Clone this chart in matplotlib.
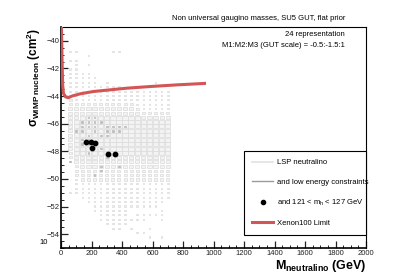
import matplotlib.pyplot as plt
from matplotlib.patches import Rectangle
from matplotlib.collections import PatchCollection
from matplotlib.lines import Line2D

plt.rcParams['font.family'] = ['Liberation Sans', 'DejaVu Sans']
plt.rcParams['mathtext.fontset'] = 'custom'
plt.rcParams['mathtext.rm'] = 'Liberation Sans'
plt.rcParams['mathtext.it'] = 'Liberation Sans:italic'
plt.rcParams['mathtext.bf'] = 'Liberation Sans:bold'

# box histogram: 40 GeV columns (centres 60..700), 0.32 rows from -55 to -39
mass_centres = [60, 100, 140, 180, 220, 260, 300, 340, 380, 420, 460, 500, 540, 580, 620, 660, 700]
row_top = 44   # index of the first string below
# box size level per cell (0 empty .. 4 big), rows from top (row 44) down to row 2
lsp_rows = [
    "11000001100000000",
    "00010000000000000",
    "11000000000000000",
    "01010000000000000",
    "11000000000000000",
    "11110000000000000",
    "11111000000000000",
    "11111010000000100",
    "11111111100000000",
    "11111111111111111",
    "11111111111111111",
    "21111111111111111",
    "22222222222111111",
    "33333333333211111",
    "33333333333322222",
    "33444444444433333",
    "34444444444444444",
    "34444444444444444",
    "34444444444444444",
    "34444444444444444",
    "34444444444444444",
    "34444444444444444",
    "34444444444444444",
    "24444444444444444",
    "23333333333333333",
    "13333333333333333",
    "02333333333333333",
    "02222222222222222",
    "02222222222222222",
    "01222222222222222",
    "01111111111111111",
    "01111111111111111",
    "11111111111111111",
    "00111111111111111",
    "00011111111111110",
    "00001111111111100",
    "00001111110000010",
    "00000111110111110",
    "00000111111110010",
    "00000011110000000",
    "00000001101001000",
    "00000000000110000",
    "00000000000001010",
]

# cells that also pass the low energy constraints (column, row)
lowe_cols = [3, 4, 2, 3, 4, 5, 2, 3, 4, 6, 7, 8, 9, 1, 2, 4, 6, 7, 8, 3, 5, 6, 2, 3, 2, 3, 5, 3, 6, 0, 5, 8, 5, 4]
lowe_rows = [29, 29, 28, 28, 28, 28, 27, 27, 27, 27, 27, 27, 27, 26, 26, 26, 26, 26, 26, 25, 25, 25, 24, 24, 23, 23, 22, 21, 20, 19, 18, 18, 17, 16]

# points with 121 < mh < 127 GeV
higgs_mass = [162, 199, 226, 206, 309, 351]
higgs_sigma = [-47.36, -47.34, -47.41, -47.75, -48.17, -48.17]

# Xenon100 limit
xenon_mass = [2, 7, 11, 16, 30, 48, 72, 125, 212, 321, 431, 584, 759, 951]
xenon_sigma = [-38.5, -41.4, -43.2, -43.8, -44.06, -44.12, -44.0, -43.84, -43.67, -43.55, -43.43, -43.31, -43.19, -43.08]

bin_w = 40.0
bin_h = 0.32
sizes = [0, 0.25, 0.5, 0.7, 0.9]


def row_centre(j):
    return -55 + bin_h * (j + 0.5)


fig = plt.figure(figsize=(4.07, 2.76), dpi=100)
ax = fig.add_axes([61 / 407, 28 / 276, 305 / 407, 221 / 276])

boxes = []
for i, row in enumerate(lsp_rows):
    y = row_centre(row_top - i)
    for k, ch in enumerate(row):
        f = sizes[int(ch)]
        if f == 0:
            continue
        x = mass_centres[k]
        boxes.append(Rectangle((x - bin_w * f / 2, y - bin_h * f / 2), bin_w * f, bin_h * f))
ax.add_collection(PatchCollection(boxes, facecolor='#f3f3f3', edgecolor='#dadada', linewidth=0.5))

dark = []
for k, j in zip(lowe_cols, lowe_rows):
    f = 0.3
    x = mass_centres[k]
    y = row_centre(j)
    dark.append(Rectangle((x - bin_w * f / 2, y - bin_h * f / 2), bin_w * f, bin_h * f))
ax.add_collection(PatchCollection(dark, facecolor='#bdbdbd', edgecolor='#b0b0b0', linewidth=0.4))

ax.scatter(higgs_mass, higgs_sigma, s=10, color='black', zorder=4)
ax.plot(xenon_mass, xenon_sigma, color='#d45555', lw=2.2, solid_capstyle='butt', zorder=5)

ax.set_xlim(0, 2000)
ax.set_ylim(-55, -39)
ax.set_xticks(range(0, 2001, 200))
ax.set_xticks(range(0, 2001, 50), minor=True)
ax.set_yticks(range(-54, -39, 2))
ax.set_yticks([-55 + 0.5 * i for i in range(33)], minor=True)
ax.tick_params(which='both', direction='in', top=False, right=False, labelsize=5.5,
               pad=1.2, colors='#222222')
ax.tick_params(which='major', length=5, width=0.9)
ax.tick_params(which='minor', length=2.5, width=0.7)
for s in ['left', 'bottom']:
    ax.spines[s].set_linewidth(1.2)
for s in ['top', 'right']:
    ax.spines[s].set_linewidth(0.8)

handles = [
    Line2D([], [], color='#e2e2e2', lw=1.2),
    Line2D([], [], color='#9a9a9a', lw=1.0),
    Line2D([], [], color='black', marker='o', ls='none', ms=3),
    Line2D([], [], color='#d45555', lw=2.2),
]
labels = ['LSP neutralino', 'and low energy constraints',
          r'and 121 < m$_{\rm h}$ < 127 GeV', 'Xenon100 Limit']
leg = ax.legend(handles, labels, loc='upper left', bbox_to_anchor=(0.6, 0.059, 0.4, 0.38),
                mode='expand', borderaxespad=0, fontsize=5.5, frameon=True, fancybox=False,
                edgecolor='black', framealpha=1, labelspacing=1.55, borderpad=1.05,
                handlelength=2.8, handletextpad=0.5)
leg.get_frame().set_linewidth(0.8)

fig.text(345 / 407, 1 - 19 / 276, 'Non universal gaugino masses, SU5 GUT, flat prior',
         ha='right', va='center', fontsize=5.5)
fig.text(345 / 407, 1 - 35 / 276, '24 representation', ha='right', va='center', fontsize=5.5)
fig.text(345 / 407, 1 - 45 / 276, 'M1:M2:M3 (GUT scale) = -0.5:-1.5:1', ha='right',
         va='center', fontsize=5.5)
fig.text(44 / 407, 1 - 243 / 276, '10', ha='center', va='center', fontsize=5.5)

fig.text(34 / 407, 1 - 28 / 276, r'$\mathbf{\sigma_{WIMP\ nucleon}}$ $\mathbf{(cm^2)}$',
         rotation=90, ha='center', va='top', fontsize=8.5, fontweight='bold')
fig.text(366 / 407, 1 - 266 / 276, r'$\mathbf{M_{neutralino}}$ $\mathbf{(GeV)}$',
         ha='right', va='center', fontsize=9, fontweight='bold')

fig.savefig('out.png', dpi=100)
